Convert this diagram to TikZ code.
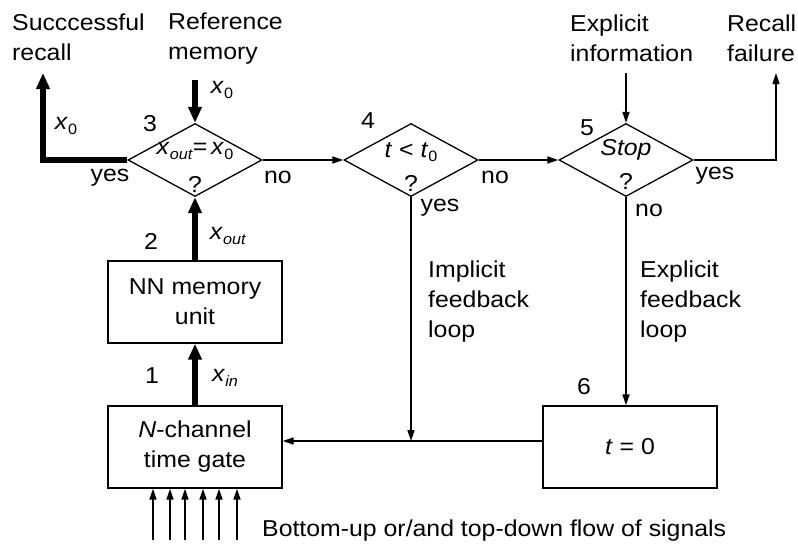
\documentclass[tikz,border=0pt]{standalone}
\usepackage{fontspec}
\setmainfont[FakeStretch=1.08]{Liberation Sans}
\usetikzlibrary{shapes.geometric, arrows.meta}
\newcommand{\vsub}[2]{\textit{#1}\raisebox{-4.5pt}{\fontsize{15}{15}\selectfont #2}}

\begin{document}
\begin{tikzpicture}[x=1pt, y=-1pt,
    every node/.style={font=\fontsize{23}{30}\selectfont, inner sep=0pt},
    decision/.style={diamond, draw, line width=1.3pt, minimum width=134pt, minimum height=73pt},
    block/.style={rectangle, draw, line width=1.3pt, minimum width=174pt, minimum height=82pt, align=center},
    note/.style={align=left, anchor=west},
    link/.style={-{Triangle[length=11pt,width=7pt]}, line width=1.6pt},
    bold/.style={-{Triangle[length=16pt,width=13pt]}, line width=5.5pt}
]
\useasboundingbox (0,0) rectangle (798,546);

% decisions
\node[decision] (test) at (195,160) {};
\node[decision] (time) at (411,160) {};
\node[decision] (stop) at (626,160) {};
\node (testq) at (195,151) {\vsub{x}{\textit{out}}=\,\vsub{x}{0}};
\node (testm) at (195,184) {?};
\node (timeq) at (411,152) {\textit{t} < \vsub{t}{0}};
\node (timem) at (411,183) {?};
\node (stopq) at (626,150) {\textit{Stop}};
\node (stopm) at (626,181) {?};

% blocks
\node[block] (memory) at (195,302) {NN memory\\unit};
\node[block] (gate) at (195,447) {\textit{N}-channel\\time gate};
\node[block] (reset) at (630,447) {\textit{t} = 0};

% step numbers
\node (n1) at (152,376) {1};
\node (n2) at (151,241) {2};
\node (n3) at (150,124) {3};
\node (n4) at (368,121) {4};
\node (n5) at (587,128) {5};
\node (n6) at (584,387) {6};

% free ends
\coordinate (refin) at (195,80);
\coordinate (expin) at (626,73);
\coordinate (okout) at (43,73);
\coordinate (failout) at (776,73);
\coordinate (join) at (411,441);

\draw[bold] (refin) -- (test.north);
\draw[bold] (test.west) -| (okout);
\draw[bold] (gate.north) -- (memory.south);
\draw[bold] (memory.north) -- (test.south);
\draw[link] (test.east) -- (time.west);
\draw[link] (time.east) -- (stop.west);
\draw[link] (expin) -- (stop.north);
\draw[link] (stop.east) -| (failout);
\draw[link] (time.south) -- (join);
\draw[link] (stop.south) -- (stop.south |- reset.north);
\draw[link] (reset.west |- join) -- (gate.east |- join);
\foreach \x in {153,170,185,203,219,237}
    \draw[link] (\x,540) -- (\x,0 |- gate.south);

% signal labels
\node (xref) at (222,90) {\vsub{x}{0}};
\node (xok) at (66,126) {\vsub{x}{0}};
\node (xout) at (228,236) {\vsub{x}{\textit{out}}};
\node (xin) at (225,378) {\vsub{x}{\textit{in}}};
\node (yes3) at (110,178) {yes};
\node (no3) at (278,177) {no};
\node (no4) at (495,177) {no};
\node (yes4) at (440,208) {yes};
\node (yes5) at (715,176) {yes};
\node (no5) at (649,210) {no};

% texts
\node[note] (oktext) at (12,37) {Succcessful\\recall};
\node[note] (reftext) at (168,39) {Reference\\memory};
\node[note] (exptext) at (570,38) {Explicit\\information};
\node[note] (failtext) at (727,38) {Recall\\failure};
\node[note] (imploop) at (428,302) {Implicit\\feedback\\loop};
\node[note] (exploop) at (640,302) {Explicit\\feedback\\loop};
\node[anchor=base west] (flow) at (262,536) {Bottom-up or/and top-down flow of signals};
\end{tikzpicture}
\end{document}
